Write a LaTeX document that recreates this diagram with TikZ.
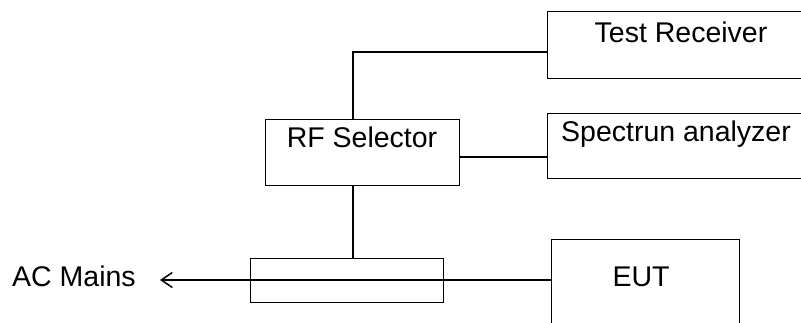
\documentclass[tikz,border=0pt]{standalone}
\usepackage{fontspec}
\setmainfont{Liberation Sans}
\usetikzlibrary{arrows.meta}
\begin{document}
\begin{tikzpicture}[x=1pt,y=-1pt,
  box/.style={draw,line width=1.3pt,inner sep=0pt,anchor=north west},
  lbl/.style={inner sep=0pt,anchor=base,font=\fontsize{28.5}{30}\selectfont},
  wire/.style={line width=1.3pt}]
\useasboundingbox (0,0) rectangle (801,322);
\clip (0,0) rectangle (801,322);
% boxes
\node[box,minimum width=270pt,minimum height=67pt] (tr) at (547,11) {};
\node[box,minimum width=270pt,minimum height=65pt] (sa) at (547,113) {};
\node[box,minimum width=194pt,minimum height=66pt] (rf) at (265,119) {};
\node[box,minimum width=193pt,minimum height=44pt] (lisn) at (250,258) {};
\node[box,minimum width=188pt,minimum height=110pt] (eut) at (551,239) {};
% labels
\node[lbl] (trt) at (681,42) {Test Receiver};
\node[lbl] (sat) at (676,141) {Spectrun analyzer};
\node[lbl] (rft) at (362,147) {RF Selector};
\node[lbl] (eutt) at (641,286) {EUT};
\node[lbl,anchor=base west] (ac) at (12,286) {AC Mains};
% connectors
\coordinate (j1) at (353,52);
\coordinate (j2) at (0,157);
\coordinate (acend) at (160,280);
\draw[wire] (rf.north -| j1) -- (j1) -- (tr.west |- j1);
\draw[wire] (rf.east |- j2) -- (sa.west |- j2);
\draw[wire] (rf.south -| j1) -- (lisn.north -| j1);
\draw[wire,-{Straight Barb[length=11pt,width=15pt,line width=1.5pt]}] (eut.west |- acend) -- (acend);
\end{tikzpicture}
\end{document}
